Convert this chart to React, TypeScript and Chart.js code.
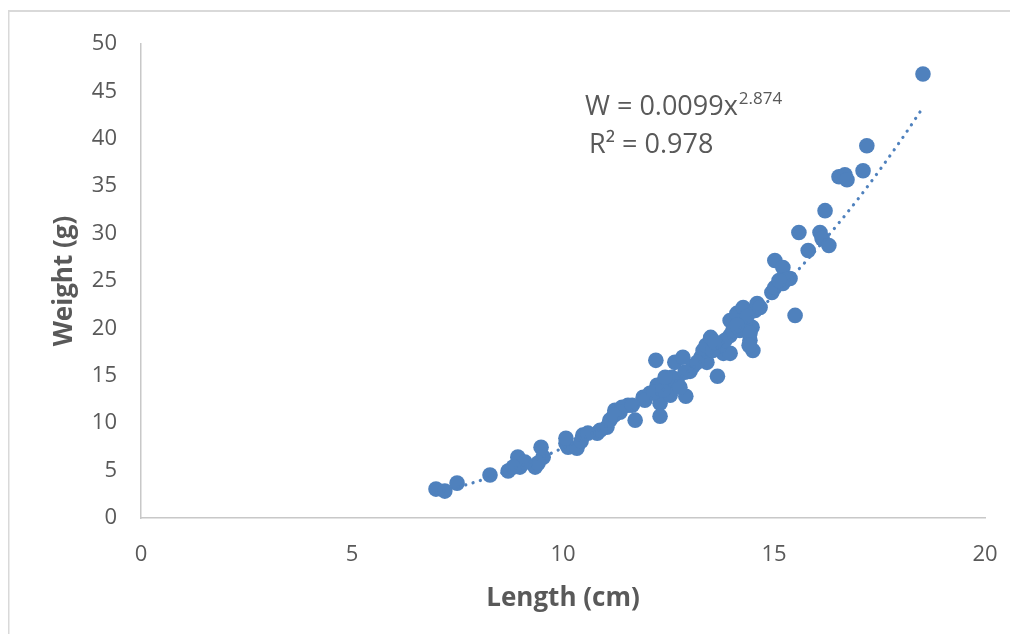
import React, { useEffect, useRef } from "react";
import { Chart, registerables } from "chart.js";

Chart.register(...registerables);

const lengths: number[] = [
  6.99, 7.2, 7.49, 8.27, 8.7, 8.93, 8.98, 9.34, 9.48, 9.53, 9.41, 10.07, 10.12, 10.33, 10.47, 10.43,
  10.81, 11.04, 11.11, 11.23, 11.54, 11.71, 11.4, 11.9, 12.06, 12.2, 12.23, 12.3, 12.3, 12.47,
  12.54, 12.58, 12.65, 12.7, 12.84, 12.91, 13.01, 12.77, 13.27, 13.32, 13.39, 13.41, 13.5, 13.66,
  13.8, 13.96, 13.96, 13.96, 14.12, 14.27, 14.43, 14.5, 14.48, 14.55, 14.6, 14.67, 14.31, 14.19,
  13.72, 13.84, 14.95, 15.02, 15.02, 15.21, 15.21, 15.38, 15.5, 15.59, 15.81, 16.09, 16.14, 16.21,
  16.3, 16.54, 16.68, 16.73, 17.11, 17.2, 18.53, 10.07, 10.88, 10.59, 11.35, 11.94, 12.16, 12.37,
  13.08, 13.18, 13.55, 13.6, 14.03, 14.36, 14.43, 14.41, 14.12, 9.1, 8.82, 11.21, 11.64, 12.89,
  12.42, 15.28, 15.12,
];

const weights: number[] = [
  3.05, 2.84, 3.68, 4.53, 4.95, 6.42, 5.37, 5.37, 7.47, 6.42, 5.79, 7.89, 7.47, 7.37, 8.74, 8.11,
  8.95, 9.58, 10.32, 11.37, 11.89, 10.32, 11.68, 12.74, 13.16, 16.63, 14.0, 12.11, 10.74, 14.21,
  12.95, 14.84, 16.42, 14.53, 16.95, 12.84, 15.47, 13.79, 16.95, 17.68, 18.21, 16.42, 19.05, 14.95,
  17.37, 17.37, 19.26, 20.84, 21.58, 22.21, 18.74, 17.68, 20.11, 21.89, 22.63, 22.21, 20.53, 19.79,
  18.21, 18.74, 23.79, 24.32, 27.16, 26.42, 24.74, 25.26, 21.37, 30.11, 28.21, 30.11, 29.47, 32.42,
  28.74, 36.0, 36.21, 35.68, 36.63, 39.26, 46.84, 8.42, 9.26, 8.95, 11.16, 12.42, 13.26, 13.47,
  16.0, 16.42, 17.68, 18.53, 19.79, 21.26, 19.47, 18.21, 20.32, 5.89, 5.37, 10.84, 11.89, 15.37,
  14.84, 25.16, 25.05,
];

// Trend line
const trendX: number[] = [7, 8, 9, 10, 11, 12, 13, 14, 15, 16, 17, 18, 18.5];
const trendY: number[] = [2.66, 3.9, 5.5, 7.4, 9.7, 12.4, 15.6, 19.3, 23.5, 28.3, 33.7, 39.8, 43.1];

const xTicks: number[] = [0, 5, 10, 15, 20];
const yTicks: number[] = [0, 5, 10, 15, 20, 25, 30, 35, 40, 45, 50];

const equationMain = "W = 0.0099x";
const equationExp = "2.874";
const r2Text = "R² = 0.978";

const FONT = "'Open Sans', 'Noto Sans', sans-serif";
const TEXT = "#595959";
const BLUE = "#4F81BD";

export default function App() {
  const ref = useRef<HTMLCanvasElement | null>(null);

  useEffect(() => {
    if (!ref.current) return;
    const framePlugin = {
      id: "frame",
      beforeDraw(chart: any) {
        const ctx = chart.ctx;
        ctx.save();
        ctx.fillStyle = "#ffffff";
        ctx.fillRect(0, 0, chart.width, chart.height);
        ctx.fillStyle = "#d9d9d9";
        ctx.fillRect(0, 2, chart.width, 2);
        ctx.fillRect(0, 2, 1.5, chart.height);
        ctx.restore();
      },
      afterDraw(chart: any) {
        const ctx = chart.ctx;
        ctx.save();
        ctx.fillStyle = TEXT;
        ctx.textBaseline = "alphabetic";
        ctx.font = `27px ${FONT}`;
        const x0 = 577;
        const y0 = 107;
        ctx.fillText(equationMain, x0, y0);
        const w = ctx.measureText(equationMain).width;
        ctx.font = `17px ${FONT}`;
        ctx.fillText(equationExp, x0 + w + 1, y0 - 11);
        ctx.font = `27px ${FONT}`;
        ctx.fillText(r2Text, x0 + 4, y0 + 38);
        ctx.restore();
      },
    };

    const chart = new Chart(ref.current, {
      type: "scatter",
      data: {
        datasets: [
          {
            type: "line",
            data: trendX.map((x, i) => ({ x, y: trendY[i] })),
            borderColor: BLUE,
            borderWidth: 3.2,
            borderDash: [0.1, 7.5],
            borderCapStyle: "round",
            pointRadius: 0,
            fill: false,
            cubicInterpolationMode: "monotone",
            order: 0,
          } as any,
          {
            data: lengths.map((x, i) => ({ x, y: weights[i] })),
            backgroundColor: BLUE,
            borderWidth: 0,
            pointRadius: 7.8,
            pointHoverRadius: 7.8,
            order: 1,
          },
        ],
      },
      options: {
        animation: false,
        responsive: false,
        maintainAspectRatio: false,
        layout: { padding: { top: 36, right: 25, left: 0, bottom: 0 } },
        plugins: { legend: { display: false }, tooltip: { enabled: false } },
        scales: {
          x: {
            type: "linear",
            min: 0,
            max: 20,
            afterBuildTicks: (s: any) => {
              s.ticks = xTicks.map((v) => ({ value: v }));
            },
            afterFit: (s: any) => {
              s.height = 116;
              s.paddingLeft = 0;
              s.paddingRight = 0;
            },
            grid: { display: false, drawTicks: false },
            border: { display: true, color: "#c8c8c8", width: 1.5 },
            ticks: { color: TEXT, font: { family: FONT, size: 22 }, padding: 24, maxRotation: 0 },
            title: {
              display: true,
              text: "Length (cm)",
              color: TEXT,
              font: { family: FONT, size: 26, weight: "bold" },
              padding: { top: 0, bottom: 20 },
            },
          },
          y: {
            type: "linear",
            min: 0,
            max: 50,
            afterBuildTicks: (s: any) => {
              s.ticks = yTicks.map((v) => ({ value: v }));
            },
            afterFit: (s: any) => {
              s.width = 133;
              s.paddingTop = 0;
              s.paddingBottom = 0;
            },
            grid: { display: false, drawTicks: false },
            border: { display: true, color: "#c8c8c8", width: 1.5 },
            ticks: { color: TEXT, font: { family: FONT, size: 22 }, padding: 24 },
            title: {
              display: true,
              text: "Weight (g)",
              color: TEXT,
              font: { family: FONT, size: 26, weight: "bold" },
              padding: { top: 41, bottom: 0 },
            },
          },
        },
      },
      plugins: [framePlugin],
    });
    return () => chart.destroy();
  }, []);

  return (
    <div style={{ width: 1002, height: 626 }}>
      <canvas ref={ref} width={1002} height={626} style={{ display: "block", width: 1002, height: 626 }} />
    </div>
  );
}
